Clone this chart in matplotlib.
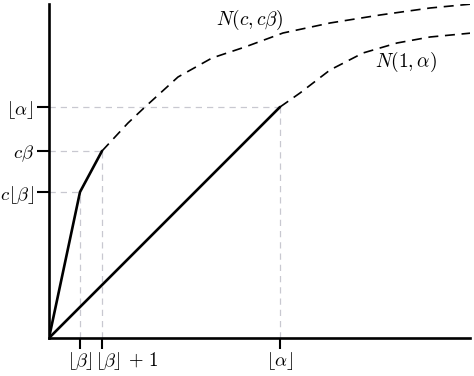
import matplotlib
matplotlib.use("Agg")
import matplotlib.pyplot as plt
import matplotlib.transforms as mtransforms

plt.rcParams["mathtext.fontset"] = "cm"
plt.rcParams["font.family"] = "serif"
plt.rcParams["font.serif"] = ["DejaVu Serif"]

# key points (arbitrary units)
floor_beta = 3.1
floor_beta_p1 = 5.3
floor_alpha = 23.1
c_floor_beta = 14.6
c_beta = 18.7

# piecewise solid lines
steep_x = [0, floor_beta, floor_beta_p1]
steep_y = [0, c_floor_beta, c_beta]
diag_x = [0, floor_alpha]
diag_y = [0, floor_alpha]

# dashed curves
upper_x = [5.3, 7.9, 9.6, 12.9, 16.3, 19.6, 23.4, 28.1, 33.1, 38.1, 42.3]
upper_y = [18.7, 21.5, 23.1, 26.1, 28.0, 29.1, 30.5, 31.5, 32.3, 33.0, 33.4]
lower_x = [23.1, 25.1, 28.1, 31.4, 34.8, 38.1, 42.3]
lower_y = [23.1, 24.5, 26.8, 28.5, 29.5, 30.1, 30.5]

fig = plt.figure(figsize=(4.74, 3.76), dpi=100)
ax = fig.add_axes([49 / 474, 38 / 376, 421 / 474, 334 / 376])

grey = "#c8c8d0"
# guide lines
ax.plot([floor_beta, floor_beta], [0, c_floor_beta], ls=(0, (5, 4)), color=grey, lw=0.9)
ax.plot([floor_beta_p1, floor_beta_p1], [0, c_beta], ls=(0, (5, 4)), color=grey, lw=0.9)
ax.plot([floor_alpha, floor_alpha], [0, floor_alpha], ls=(0, (5, 4)), color=grey, lw=0.9)
ax.plot([0, floor_beta], [c_floor_beta, c_floor_beta], ls=(0, (5, 4)), color=grey, lw=0.9)
ax.plot([0, floor_beta_p1], [c_beta, c_beta], ls=(0, (5, 4)), color=grey, lw=0.9)
ax.plot([0, floor_alpha], [floor_alpha, floor_alpha], ls=(0, (5, 4)), color=grey, lw=0.9)

ax.plot(steep_x, steep_y, color="black", lw=1.9, solid_capstyle="round")
ax.plot(diag_x, diag_y, color="black", lw=1.9, solid_capstyle="round")
ax.plot(upper_x, upper_y, color="black", lw=1.2, ls=(0, (6, 4)))
ax.plot(lower_x, lower_y, color="black", lw=1.2, ls=(0, (6, 4)))

ax.text(20.1, 31.8, r"$N(c, c\beta)$", fontsize=14, ha="center", va="center")
ax.text(35.7, 27.6, r"$N(1, \alpha)$", fontsize=14, ha="center", va="center")

ax.set_xlim(0, 42.1)
ax.set_ylim(0, 33.4)
for s in ["top", "right"]:
    ax.spines[s].set_visible(False)
for s in ["left", "bottom"]:
    ax.spines[s].set_linewidth(1.9)

ax.set_xticks([floor_beta, floor_beta_p1, floor_alpha])
ax.set_xticklabels([r"$\lfloor\beta\rfloor$", r"$\lfloor\beta\rfloor\, +\, 1$", r"$\lfloor\alpha\rfloor$"], fontsize=13.5)
ax.set_yticks([c_floor_beta, c_beta, floor_alpha])
ax.set_yticklabels([r"$c\lfloor\beta\rfloor$", r"$c\beta$", r"$\lfloor\alpha\rfloor$"], fontsize=13.5)
ax.tick_params(axis="x", length=8, width=1.5, pad=1)
ax.tick_params(axis="y", length=9, width=1.5, pad=2)
lab = ax.get_xticklabels()[1]
lab.set_horizontalalignment("left")
lab.set_transform(lab.get_transform() + mtransforms.ScaledTranslation(-7 / 100, 0, fig.dpi_scale_trans))

fig.savefig("out.png", dpi=100)
